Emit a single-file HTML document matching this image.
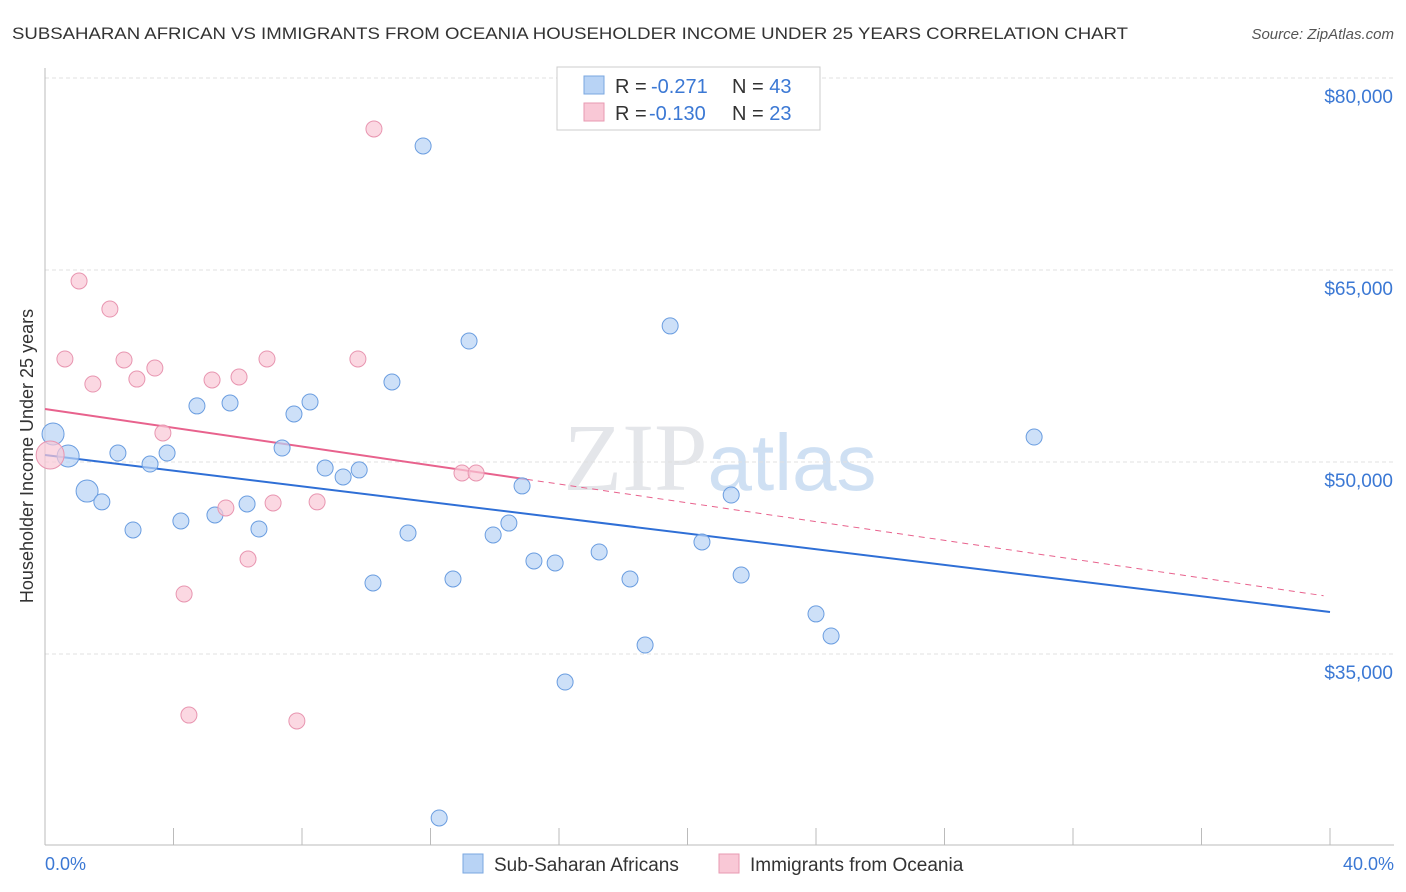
<!DOCTYPE html>
<html><head><meta charset="utf-8"><style>
body{margin:0;background:#fff;font-family:"Liberation Sans",sans-serif;}
svg{display:block}
</style></head><body>
<svg width="1406" height="892">
<text x="12" y="39" font-size="17" fill="#333" textLength="1116" lengthAdjust="spacingAndGlyphs">SUBSAHARAN AFRICAN VS IMMIGRANTS FROM OCEANIA HOUSEHOLDER INCOME UNDER 25 YEARS CORRELATION CHART</text>
<text x="1394" y="39" font-size="15" fill="#555" text-anchor="end" font-style="italic">Source: ZipAtlas.com</text>
<text x="720" y="490" font-size="96" fill="#e4e6ea" text-anchor="middle" font-family="Liberation Serif,serif">ZIP<tspan fill="#cfe0f3" font-family="Liberation Sans,sans-serif" font-size="80">atlas</tspan></text>
<g id="grid"></g>
<g id="axes"></g>
<g id="lines"></g>
<g id="pts"></g>
<text x="33" y="456" font-size="18" fill="#333" text-anchor="middle" transform="rotate(-90 33 456)">Householder Income Under 25 years</text>
<text x="45" y="870" font-size="18" fill="#3b78d4">0.0%</text>
<text x="1394" y="870" font-size="18" fill="#3b78d4" text-anchor="end">40.0%</text>
<g>
<rect x="557" y="67" width="263" height="63" fill="#fff" stroke="#ccc"/>
<rect x="584" y="76" width="20" height="18" fill="#b8d3f5" stroke="#7aa7e0"/>
<rect x="584" y="103" width="20" height="18" fill="#f9c8d6" stroke="#e89ab2"/>
<text x="615" y="93" font-size="20" fill="#333">R = <tspan x="651" fill="#3b78d4">-0.271</tspan><tspan x="732">N = </tspan><tspan fill="#3b78d4">43</tspan></text>
<text x="615" y="120" font-size="20" fill="#333">R = <tspan x="649" fill="#3b78d4">-0.130</tspan><tspan x="732">N = </tspan><tspan fill="#3b78d4">23</tspan></text>
</g>
<g>
<rect x="463" y="854" width="20" height="19" fill="#b8d3f5" stroke="#7aa7e0"/>
<text x="494" y="871" font-size="19" fill="#333">Sub-Saharan Africans</text>
<rect x="719" y="854" width="20" height="19" fill="#f9c8d6" stroke="#e89ab2"/>
<text x="750" y="871" font-size="19" fill="#333">Immigrants from Oceania</text>
</g>
</svg>
<script>
const yTicks=[35000,50000,65000,80000];
const yTickLabels=["$35,000","$50,000","$65,000","$80,000"];
const blueX=[0.25,0.72,1.31,1.77,2.27,2.74,3.27,3.80,4.23,4.73,5.29,5.76,6.29,6.66,7.38,7.75,8.25,8.72,9.28,9.78,10.21,10.80,11.30,11.77,12.27,12.70,13.20,13.95,14.44,14.85,15.22,15.88,16.19,17.25,18.21,18.68,19.46,20.45,21.36,21.67,24.00,24.47,30.79];
const blueY=[52190,50470,47730,46880,50700,44690,49840,50700,45390,54380,45860,54610,46720,44770,51090,53750,54690,49530,48830,49380,40550,56250,44450,74690,22190,40860,59450,44300,45230,48130,42270,42110,32810,42970,40860,35700,60630,43750,47420,41170,38130,36410,51950];
const pinkX=[0.16,0.62,1.06,1.49,2.02,2.46,2.86,3.42,3.67,4.33,4.48,5.20,5.63,6.04,6.32,6.91,7.10,7.84,8.47,9.74,10.24,12.98,13.42];
const pinkY=[50550,58050,64140,56090,61950,57970,56480,57340,52270,39690,30230,56410,46410,56640,42420,58050,46800,29770,46880,58050,76020,49140,49140];
const blueTrend=[50550,38280];
const pinkTrend=[54140,39480];
const pinkSolidEnd=15;
const NS="http://www.w3.org/2000/svg";
const xs=v=>45+v/40*1285;
const ys=v=>462-(v-50000)*192/15000;
function mk(t,a,p){const e=document.createElementNS(NS,t);for(const k in a)e.setAttribute(k,a[k]);document.getElementById(p).appendChild(e);return e;}
yTicks.forEach((t,i)=>{
 const l=mk('line',{x1:45,x2:1394,y1:ys(t),y2:ys(t),stroke:'#e0e0e0','stroke-dasharray':'4,3'},'grid');
 
 
 const tx=mk('text',{x:1393,y:ys(t)+25,'font-size':19,fill:'#3b78d4','text-anchor':'end'},'grid');
 tx.textContent=yTickLabels[i];
 
 
});
mk('line',{x1:45,x2:45,y1:68,y2:845,stroke:'#bbb'},'axes');
mk('line',{x1:45,x2:1394,y1:845,y2:845,stroke:'#bbb'},'axes');
for(let i=1;i<=10;i++){const t=mk('line',{x1:xs(i*4),x2:xs(i*4),y1:828,y2:845,stroke:'#bbb'},'axes');
 
 }
const bl=mk('line',{x1:xs(0),y1:ys(blueTrend[0]),x2:xs(40),y2:ys(blueTrend[1]),stroke:'#2f6fd6','stroke-width':2},'lines');


const pe=pinkTrend[0]+(pinkTrend[1]-pinkTrend[0])*pinkSolidEnd/40;
const pl=mk('line',{x1:xs(0),y1:ys(pinkTrend[0]),x2:xs(pinkSolidEnd),y2:ys(pe),stroke:'#e8628d','stroke-width':2},'lines');


const pd=mk('line',{x1:xs(pinkSolidEnd),y1:ys(pe),x2:xs(39.8),y2:ys(pinkTrend[0]+(pinkTrend[1]-pinkTrend[0])*39.8/40),stroke:'#e8628d','stroke-width':1,'stroke-dasharray':'6,5'},'lines');


blueX.forEach((x,i)=>{const c=mk('circle',{cx:xs(x),cy:ys(blueY[i]),r:i<3?11:8,fill:'rgba(184,211,245,0.7)',stroke:'#6a9de0','stroke-width':1},'pts');
 
 });
pinkX.forEach((x,i)=>{const c=mk('circle',{cx:xs(x),cy:ys(pinkY[i]),r:i==0?14:8,fill:'rgba(249,200,214,0.7)',stroke:'#e895b0','stroke-width':1},'pts');
 
 });
</script>
</body></html>
